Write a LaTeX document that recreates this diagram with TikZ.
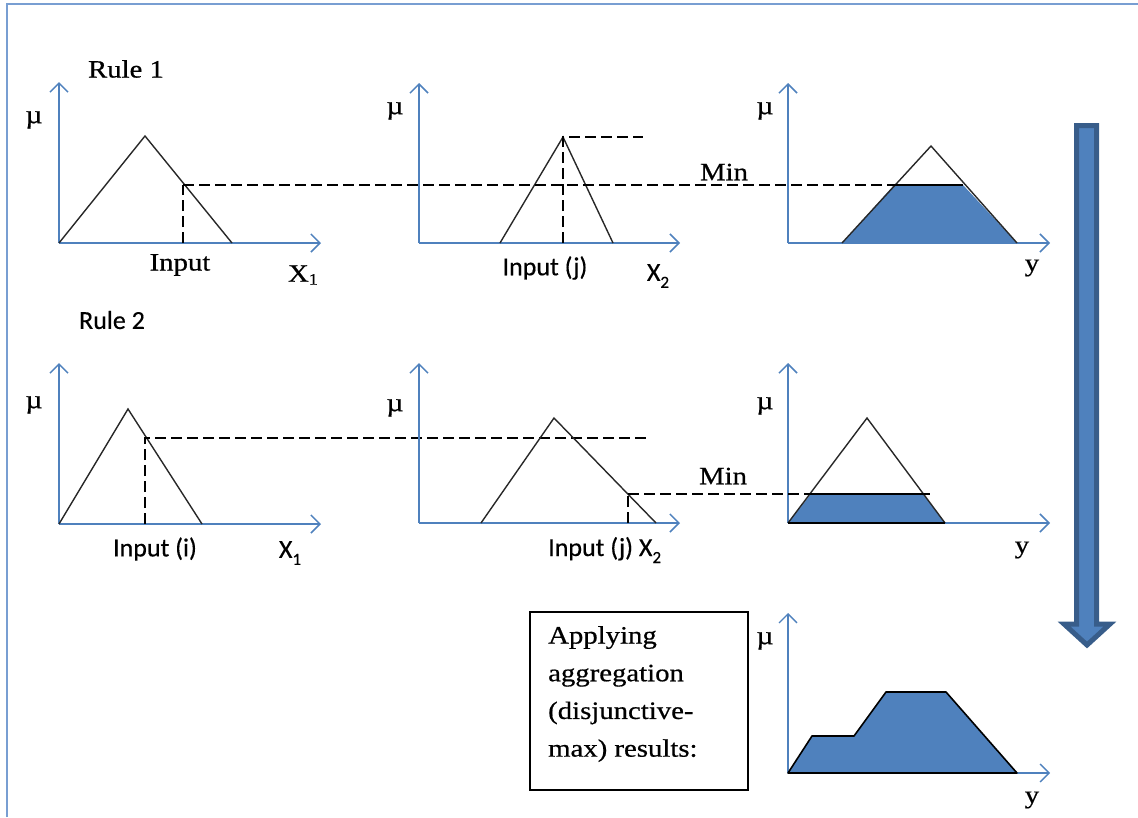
\documentclass[tikz,border=0pt]{standalone}
\usepackage{fontspec}
\setmainfont{Liberation Serif}[FakeStretch=1.15,FakeBold=0.6]
\newfontfamily\sansf{Carlito}[FakeBold=0.4]
\usetikzlibrary{arrows.meta}
\definecolor{axisblue}{RGB}{79,129,189}
\definecolor{fillblue}{RGB}{79,129,189}
\definecolor{darkblue}{RGB}{56,93,138}
\definecolor{framecol}{RGB}{120,158,210}
\definecolor{linegray}{RGB}{40,40,40}
\begin{document}
\begin{tikzpicture}[x=1pt,y=-1pt,
  axis/.style={draw=axisblue,line width=1.5pt,-{Straight Barb[length=9pt,width=18pt]}},
  memb/.style={draw=linegray,line width=1.4pt,line join=miter},
  cut/.style={draw=black,line width=1.5pt,dash pattern=on 11pt off 5pt},
  clipline/.style={draw=black,line width=2pt},
  serif/.style={inner sep=0pt,font=\fontsize{25}{29}\selectfont},
  mulabel/.style={inner sep=0pt,font=\fontsize{26}{30}\selectfont},
  sans/.style={inner sep=0pt,font=\sansf\fontsize{26}{30}\selectfont},
  shade/.style={fill=fillblue}
]
\useasboundingbox (0,0) rectangle (1138,817);
% frame
\draw[framecol,line width=2.2pt] (7,817) -- (7,4) -- (1138,4);

% ================= Rule 1 =================
\node[serif] (r1) at (126,69) {Rule 1};
% panel 1
\coordinate (o1) at (59,243);
\draw[axis] (o1) -- (59,82);
\draw[axis] (o1) -- (321,243);
\draw[memb] (59,243) -- (145,136) -- (232,243);
\coordinate (in1) at (183,243);
\coordinate (c1) at (183,185);
\draw[cut] (in1) -- (c1);
\node[mulabel] (mu1) at (34,120) {µ};
\node[serif] (inp1) at (180,265) {Input};
\node[serif] (x11) at (303,275) {X\raisebox{-3pt}{\fontsize{16}{16}\selectfont 1}};
% panel 2
\coordinate (o2) at (419,243);
\draw[axis] (o2) -- (419,83);
\draw[axis] (o2) -- (680,243);
\draw[memb] (500,243) -- (563,137) -- (613,243);
\coordinate (in2) at (563,243);
\coordinate (p2) at (563,137);
\coordinate (e2) at (643,137);
\draw[cut] (in2) -- (p2) -- (e2);
\node[mulabel] (mu2) at (395,111) {µ};
\node[sans] (inp2) at (545,268) {Input (j)};
\node[sans] (x21) at (658,276) {X\raisebox{-7pt}{\fontsize{17}{17}\selectfont 2}};
\node[serif] (min1) at (724,172) {Min};
% panel 3
\coordinate (o3) at (788,243);
\draw[axis] (o3) -- (788,83);
\draw[axis] (o3) -- (1050,243);
\coordinate (a3) at (894,185);
\coordinate (b3) at (963,185);
\fill[shade] (842,243) -- (a3) -- (b3) -- (1017,243) -- cycle;
\draw[memb] (842,243) -- (931,146) -- (1017,243);
\draw[clipline] (a3) -- (b3);
\draw[cut] (c1) -- (a3);
\node[mulabel] (mu3) at (765,111) {µ};
\node[serif] (y1) at (1032,268) {y};

% ================= Rule 2 =================
\node[sans] (r2) at (112,320) {Rule 2};
% panel 4
\coordinate (o4) at (59,524);
\draw[axis] (o4) -- (59,363);
\draw[axis] (o4) -- (321,524);
\draw[memb] (59,524) -- (128,409) -- (202,524);
\coordinate (in4) at (145,524);
\coordinate (c4) at (145,438);
\coordinate (e4) at (647,438);
\draw[cut] (in4) -- (c4) -- (e4);
\node[mulabel] (mu4) at (34,405) {µ};
\node[sans] (inp4) at (155,549) {Input (i)};
\node[sans] (x12) at (290,553) {X\raisebox{-7pt}{\fontsize{17}{17}\selectfont 1}};
% panel 5
\coordinate (o5) at (419,523);
\draw[axis] (o5) -- (419,363);
\draw[axis] (o5) -- (680,523);
\draw[memb] (481,523) -- (554,418) -- (656,523);
\coordinate (in5) at (628,523);
\coordinate (c5) at (628,494);
\draw[cut] (in5) -- (c5);
\node[mulabel] (mu5) at (395,408) {µ};
\node[sans,anchor=west] (inp5) at (548,550) {Input (j) X\raisebox{-7pt}{\fontsize{17}{17}\selectfont 2}};
\node[serif] (min2) at (723,476) {Min};
% panel 6
\coordinate (o6) at (788,523);
\draw[axis] (o6) -- (788,363);
\draw[axis] (o6) -- (1050,523);
\coordinate (a6) at (811,494);
\coordinate (b6) at (923,494);
\coordinate (e6) at (930,494);
\fill[shade] (788,523) -- (a6) -- (b6) -- (945,523) -- cycle;
\draw[memb] (788,523) -- (867,418) -- (945,523);
\draw[clipline] (788,523) -- (945,523);
\draw[clipline] (a6) -- (e6);
\draw[cut] (c5) -- (a6);
\node[mulabel] (mu6) at (765,406) {µ};
\node[serif] (y2) at (1022,550) {y};

% ================= Aggregation =================
\node[draw=black,line width=1.5pt,minimum width=218pt,minimum height=178pt,inner sep=0pt] (box) at (639,701) {};
\node[serif,anchor=north west,align=left,font=\fontsize{25}{37.7}\selectfont] (boxtxt) at (548,626)
 {Applying\\aggregation\\(disjunctive-\\max) results:};
\coordinate (o7) at (788,773);
\draw[axis,line width=1.3pt] (o7) -- (788,613);
\draw[axis,line width=1.3pt] (o7) -- (1050,773);
\filldraw[fill=fillblue,draw=black,line width=1.6pt,line join=round]
  (788,773) -- (812,736) -- (854,736) -- (886,692) -- (946,692) -- (1017,773) -- cycle;
\node[mulabel] (mu7) at (765,641) {µ};
\node[serif] (y3) at (1032,800) {y};

% ================= big arrow =================
\filldraw[fill=fillblue,draw=darkblue,line width=5pt,line join=miter]
  (1076.5,125.5) -- (1096.5,125.5) -- (1096.5,624) -- (1110,624) -- (1087,645)
  -- (1064,624) -- (1076.5,624) -- cycle;
\end{tikzpicture}
\end{document}
